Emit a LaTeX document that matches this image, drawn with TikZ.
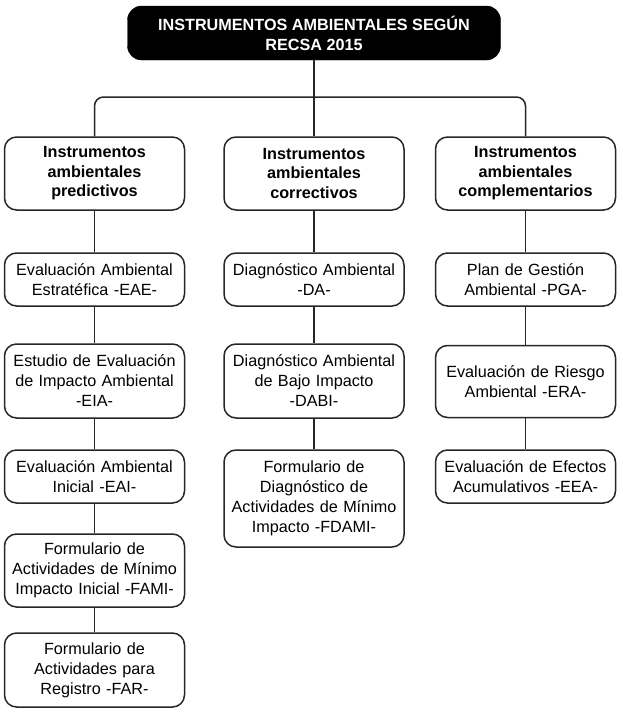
\documentclass[tikz,border=0pt]{standalone}
\usepackage{fontspec}
\setmainfont{Liberation Sans}
\begin{document}
\begin{tikzpicture}[x=1pt,y=1pt,
  box/.style={draw=black!85,line width=1.5pt,rounded corners=12pt,align=center,
    minimum width=180pt,text width=178pt,inner sep=0.5pt,
    font=\fontsize{16.2}{20}\selectfont},
  catbox/.style={box,font=\fontsize{16.2}{19.5}\selectfont\bfseries},
  titlebox/.style={fill=black,draw=black,rounded corners=14pt,align=center,
    minimum width=373pt,minimum height=54pt,text=white,inner sep=1pt,
    font=\fontsize{16.2}{20}\selectfont\bfseries},
  conn/.style={draw=black!85,line width=1.5pt}]
\useasboundingbox (0,0) rectangle (622,-712);
\node[titlebox] (title) at (314,-33) {INSTRUMENTOS AMBIENTALES SEGÚN\\RECSA 2015};
% categories
\node[catbox,minimum height=73pt] (c1) at (94.5,-173.5) {Instrumentos\\ambientales\\predictivos};
\node[catbox,minimum height=73pt] (c2) at (314,-173.5) {Instrumentos\\ambientales\\correctivos};
\node[catbox,minimum height=73pt] (c3) at (525.5,-173.5) {Instrumentos\\ambientales\\complementarios};
% left column
\node[box,minimum height=53pt] (l1) at (94.5,-279.5) {Evaluación Ambiental\\Estratéfica -EAE-};
\node[box,minimum height=74pt] (l2) at (94.5,-381) {Estudio de Evaluación\\de Impacto Ambiental\\-EIA-};
\node[box,minimum height=53pt] (l3) at (94.5,-476.5) {Evaluación Ambiental\\Inicial -EAI-};
\node[box,minimum height=73pt] (l4) at (94.5,-570.5) {Formulario de\\Actividades de Mínimo\\Impacto Inicial -FAMI-};
\node[box,minimum height=74pt] (l5) at (94.5,-670) {Formulario de\\Actividades para\\Registro -FAR-};
% middle column
\node[box,minimum height=53pt] (m1) at (314,-279.5) {Diagnóstico Ambiental\\-DA-};
\node[box,minimum height=74pt] (m2) at (314,-381) {Diagnóstico Ambiental\\de Bajo Impacto\\-DABI-};
\node[box,minimum height=97pt] (m3) at (314,-498.5) {Formulario de\\Diagnóstico de\\Actividades de Mínimo\\Impacto -FDAMI-};
% right column
\node[box,minimum height=53pt] (r1) at (525.5,-279.5) {Plan de Gestión\\Ambiental -PGA-};
\node[box,minimum height=72pt] (r2) at (525.5,-381.5) {Evaluación de Riesgo\\Ambiental -ERA-};
\node[box,minimum height=53pt] (r3) at (525.5,-476.5) {Evaluación de Efectos\\Acumulativos -EEA-};
% connectors
\coordinate (hb) at (314,-97);
\draw[conn] (title) -- (c2);
\draw[conn,rounded corners=9pt] (c1.north) |- (hb) -| (c3.north);
\draw[conn] (c1) -- (l1);
\draw[conn] (l1) -- (l2);
\draw[conn] (l2) -- (l3);
\draw[conn] (l3) -- (l4);
\draw[conn] (l4) -- (l5);
\draw[conn] (c2) -- (m1);
\draw[conn] (m1) -- (m2);
\draw[conn] (m2) -- (m3);
\draw[conn] (c3) -- (r1);
\draw[conn] (r1) -- (r2);
\draw[conn] (r2) -- (r3);
\end{tikzpicture}
\end{document}
